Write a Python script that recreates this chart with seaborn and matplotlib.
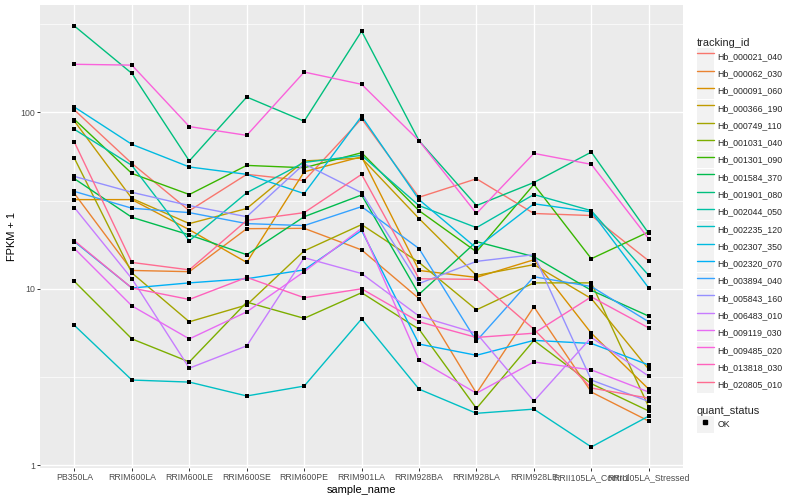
import matplotlib
matplotlib.use('Agg')
import matplotlib.pyplot as plt
import matplotlib.ticker as mticker
from matplotlib.patches import Rectangle
from matplotlib.lines import Line2D
from matplotlib.legend_handler import HandlerTuple
import numpy as np
import pandas as pd
import seaborn as sns

# samples on the x axis
samples = ['PB350LA', 'RRIM600LA', 'RRIM600LE', 'RRIM600SE', 'RRIM600PE',
           'RRIM901LA', 'RRIM928BA', 'RRIM928LA', 'RRIM928LE',
           'RRII105LA_Control', 'RRII105LA_Stressed']

tracking_ids = ['Hb_000021_040', 'Hb_000062_030', 'Hb_000091_060', 'Hb_000366_190',
                'Hb_000749_110', 'Hb_001031_040', 'Hb_001301_090', 'Hb_001584_370',
                'Hb_001901_080', 'Hb_002044_050', 'Hb_002235_120', 'Hb_002307_350',
                'Hb_002320_070', 'Hb_003894_040', 'Hb_005843_160', 'Hb_006483_010',
                'Hb_009119_030', 'Hb_009485_020', 'Hb_013818_030', 'Hb_020805_010']

# ggplot default hue palette for 20 levels
colors = ['#F8766D', '#EA8331', '#D89000', '#C09B00', '#A3A500', '#7CAE00',
          '#39B600', '#00BB4E', '#00BF7D', '#00C1A3', '#00BFC4', '#00BAE0',
          '#00B0F6', '#35A2FF', '#9590FF', '#C77CFF', '#E76BF3', '#FA62DB',
          '#FF62BC', '#FF6C91']

# FPKM + 1 (one list per gene, same order as samples)
hb_000021_040 = [103, 51.3, 27.7, 44.5, 41, 92, 33, 42, 26.7, 26, 14.4]
hb_000062_030 = [34.6, 12.7, 12.5, 21.9, 22, 16.6, 8.8, 2.56, 7.9, 2.6, 1.78]
hb_000091_060 = [32, 32, 21.6, 14.1, 46, 56, 12.7, 11.6, 14.6, 5.6, 2.7]
hb_000366_190 = [89, 32.5, 23.4, 28.5, 53, 55, 25, 11.9, 13.7, 8.8, 3.5]
hb_000749_110 = [54.8, 12.3, 6.5, 8.1, 16.4, 23.1, 14.1, 7.6, 10.8, 10.8, 2.14]
hb_001031_040 = [11, 5.2, 3.85, 8.4, 6.8, 9.5, 5.9, 2.1, 5.1, 2.9, 2.03]
hb_001301_090 = [91, 45, 34.2, 50, 48.5, 59, 27.7, 16.2, 39, 14.8, 21]
hb_001584_370 = [42, 25.4, 20.2, 15.6, 25.6, 34, 9.3, 18.5, 15.2, 9.8, 7.0]
hb_001901_080 = [308, 166, 53, 122, 89, 288, 69, 29.6, 40, 59.5, 20.6]
hb_002044_050 = [80, 50, 18.7, 35, 52, 57, 29.6, 22.2, 34.2, 27.7, 11.9]
hb_002235_120 = [6.2, 3.04, 2.96, 2.47, 2.81, 6.75, 2.7, 1.97, 2.08, 1.27, 1.9]
hb_002307_350 = [107, 65.8, 49, 44.5, 34.6, 95, 32, 17, 30.3, 27.3, 10.1]
hb_002320_070 = [18.5, 10.1, 10.8, 11.4, 12.8, 21.4, 4.86, 4.2, 5.1, 4.9, 3.7]
hb_003894_040 = [35.6, 28.6, 27, 23.4, 22.8, 29.2, 16.9, 5.06, 11.7, 10.3, 6.5]
hb_005843_160 = [43.3, 35.2, 29.6, 25.6, 51, 35, 10.7, 14.3, 15.6, 3.04, 2.3]
hb_006483_010 = [28.8, 11.4, 3.55, 4.75, 15, 12.2, 7.0, 5.6, 2.31, 5.3, 3.2]
hb_009119_030 = [16.9, 8.0, 5.2, 7.4, 12.5, 22, 3.95, 2.56, 3.85, 3.47, 2.6]
hb_009485_020 = [187, 185, 83, 74, 169, 144, 69, 26.7, 58.5, 50.7, 19.2]
hb_013818_030 = [18.7, 10.1, 8.7, 11.6, 8.9, 10.0, 6.5, 5.3, 5.6, 9.0, 6.0]
hb_020805_010 = [67.6, 14.1, 12.8, 24.4, 27, 44.5, 11.4, 11.3, 5.9, 2.74, 2.4]

series = [hb_000021_040, hb_000062_030, hb_000091_060, hb_000366_190, hb_000749_110,
          hb_001031_040, hb_001301_090, hb_001584_370, hb_001901_080, hb_002044_050,
          hb_002235_120, hb_002307_350, hb_002320_070, hb_003894_040, hb_005843_160,
          hb_006483_010, hb_009119_030, hb_009485_020, hb_013818_030, hb_020805_010]

# long format table
rows = []
for tid, vals in zip(tracking_ids, series):
    for s, v in zip(samples, vals):
        rows.append({'tracking_id': tid, 'sample_name': s, 'fpkm': v, 'quant_status': 'OK'})
df = pd.DataFrame(rows)

sns.set_theme(style='darkgrid', rc={'axes.facecolor': '#EBEBEB', 'grid.color': 'white'})
plt.rcParams['font.family'] = ['Liberation Sans', 'DejaVu Sans']

fig = plt.figure(figsize=(8, 5), dpi=100)
ax = fig.add_axes([0.05, 0.064, 0.804, 0.926])

sns.lineplot(data=df, x='sample_name', y='fpkm', hue='tracking_id', hue_order=tracking_ids,
             palette=colors, units='tracking_id', estimator=None, sort=False,
             lw=1.0, ax=ax, legend=False)
sns.scatterplot(data=df, x='sample_name', y='fpkm', color='black', marker='s', s=7,
                linewidth=0, ax=ax, legend=False, zorder=3)

# log scale with ggplot style 5% expansion
ax.set_yscale('log')
lo, hi = np.log10(df['fpkm'].min()), np.log10(df['fpkm'].max())
pad = 0.05 * (hi - lo)
ax.set_ylim(10 ** (lo - pad), 10 ** (hi + pad))
ax.set_xlim(-0.6, len(samples) - 0.4)

ax.yaxis.set_major_locator(mticker.FixedLocator([1, 10, 100]))
ax.yaxis.set_major_formatter(mticker.FixedFormatter(['1', '10', '100']))
ax.yaxis.set_minor_locator(mticker.FixedLocator([10 ** 0.5, 10 ** 1.5, 10 ** 2.5]))
ax.yaxis.set_minor_formatter(mticker.NullFormatter())

ax.grid(which='major', color='white', lw=1.0)
ax.grid(which='minor', axis='y', color='white', lw=0.5)
ax.tick_params(which='major', length=2.0, width=0.7, color='#333333', pad=1.6,
               labelsize=6.3, labelcolor='#4D4D4D', bottom=True, left=True)
ax.tick_params(which='minor', length=0)
for sp in ax.spines.values():
    sp.set_visible(False)

ax.set_xlabel('sample_name', fontsize=7.9, color='black', labelpad=2)
ax.set_ylabel('FPKM + 1', fontsize=7.9, color='black', labelpad=2)

# legends on the right, ggplot look (grey key boxes)
key_bg = '#F2F2F2'
leg_kw = dict(loc='upper left', frameon=False, title_fontsize=7.9, fontsize=6.3,
              handlelength=1.95, handleheight=2.6, handletextpad=0.4, labelspacing=0.04,
              borderpad=0, borderaxespad=0, alignment='left',
              handler_map={tuple: HandlerTuple(ndivide=1, pad=0)})

line_handles = [(Rectangle((0, 0), 1, 1, facecolor=key_bg, edgecolor='none'),
                 Line2D([], [], color=c, lw=1.0)) for c in colors]
fig.legend(line_handles, tracking_ids, bbox_to_anchor=(0.871, 0.925),
           title='tracking_id', **leg_kw)

ok_handle = [(Rectangle((0, 0), 1, 1, facecolor=key_bg, edgecolor='none'),
              Line2D([], [], ls='none', marker='s', color='black', markersize=2.6))]
fig.legend(ok_handle, ['OK'], bbox_to_anchor=(0.871, 0.188),
           title='quant_status', **leg_kw)

fig.savefig('out.png', dpi=100)
